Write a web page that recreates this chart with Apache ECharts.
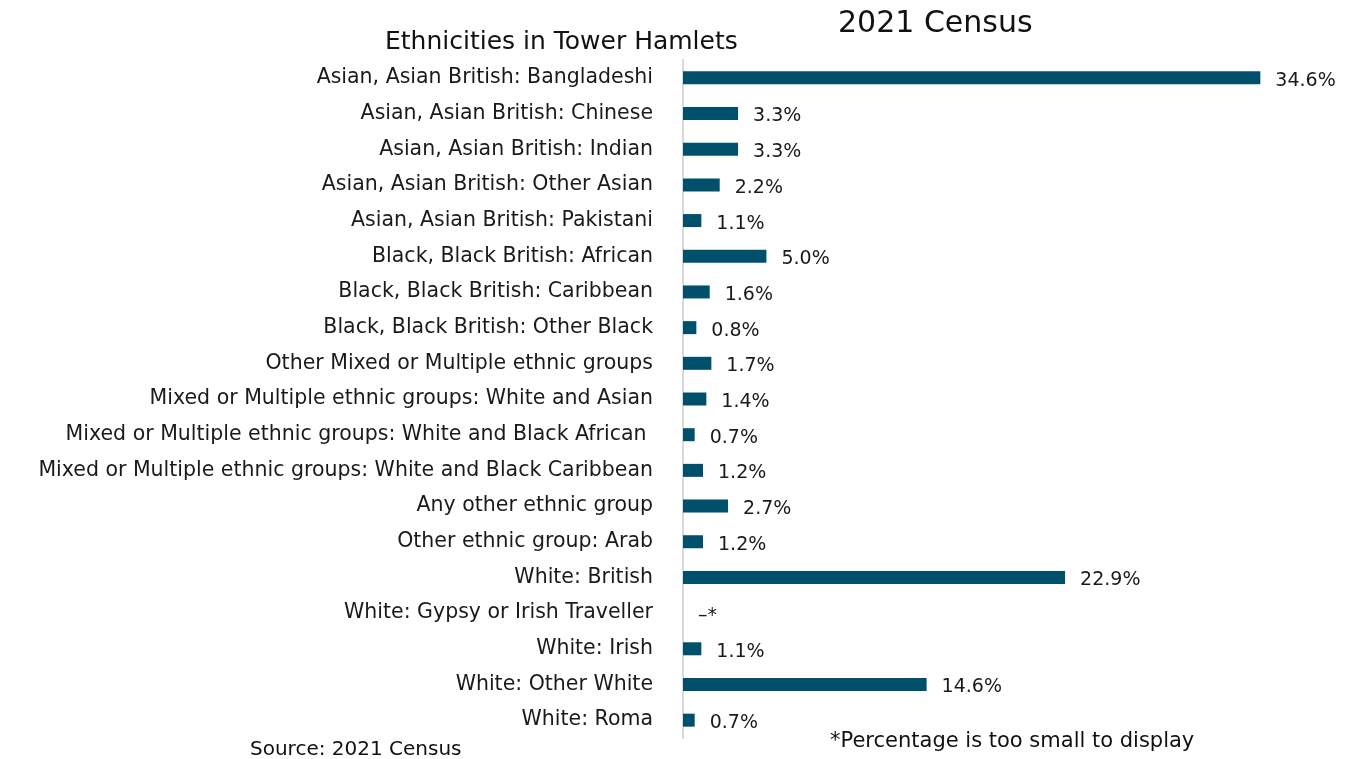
<!DOCTYPE html>
<html>
<head>
<meta charset="utf-8">
<script src="https://cdn.jsdelivr.net/npm/echarts@6/dist/echarts.min.js"></script>
<style>
  html, body { margin: 0; padding: 0; background: #ffffff; }
  #chart { width: 1358px; height: 759px; }
</style>
</head>
<body>
<div id="chart"></div>
<script>
// Ethnic groups in Tower Hamlets, 2021 Census (share of residents, %)
const categories = [
  'Asian, Asian British: Bangladeshi',
  'Asian, Asian British: Chinese',
  'Asian, Asian British: Indian',
  'Asian, Asian British: Other Asian',
  'Asian, Asian British: Pakistani',
  'Black, Black British: African',
  'Black, Black British: Caribbean',
  'Black, Black British: Other Black',
  'Other Mixed or Multiple ethnic groups',
  'Mixed or Multiple ethnic groups: White and Asian',
  'Mixed or Multiple ethnic groups: White and Black African ',
  'Mixed or Multiple ethnic groups: White and Black Caribbean',
  'Any other ethnic group',
  'Other ethnic group: Arab',
  'White: British',
  'White: Gypsy or Irish Traveller',
  'White: Irish',
  'White: Other White',
  'White: Roma'
];
const shares = [34.6, 3.3, 3.3, 2.2, 1.1, 5.0, 1.6, 0.8, 1.7, 1.4, 0.7, 1.2, 2.7, 1.2, 22.9, 0, 1.1, 14.6, 0.7];
// Groups whose share is too small to show get a marker instead of a number
const suppressed = [false, false, false, false, false, false, false, false, false, false,
                    false, false, false, false, false, true, false, false, false];

const FONT = 'DejaVu Sans';
const chart = echarts.init(document.getElementById('chart'), null, { renderer: 'canvas' });

chart.setOption({
  backgroundColor: '#ffffff',
  textStyle: { fontFamily: FONT },
  animation: false,
  grid: { left: 683, top: 60, width: 584, height: 678, containLabel: false },
  xAxis: {
    type: 'value',
    min: 0,
    max: 35,
    show: false
  },
  yAxis: {
    type: 'category',
    data: categories,
    inverse: true,
    axisLine: { show: true, lineStyle: { color: '#d9d9d9', width: 2 } },
    axisTick: { show: false },
    axisLabel: { color: '#1a1a1a', fontSize: 20.5, fontFamily: FONT, margin: 30, padding: [3, 0, 0, 0] }
  },
  series: [{
    type: 'bar',
    data: shares,
    barWidth: 13,
    itemStyle: { color: '#00506b' },
    label: {
      show: true,
      position: 'right',
      distance: 15,
      offset: [0, 3],
      color: '#1a1a1a',
      fontSize: 19,
      fontFamily: FONT,
      formatter: p => suppressed[p.dataIndex] ? '\u2013*' : p.value.toFixed(1) + '%'
    }
  }],
  graphic: [
    { type: 'text', left: 838, top: 9,
      style: { text: '2021 Census', font: '30px "' + FONT + '"', fill: '#111111' } },
    { type: 'text', left: 385, top: 30,
      style: { text: 'Ethnicities in Tower Hamlets', font: '25px "' + FONT + '"', fill: '#111111' } },
    { type: 'text', left: 250, top: 740,
      style: { text: 'Source: 2021 Census', font: '20px "' + FONT + '"', fill: '#111111' } },
    { type: 'text', left: 830, top: 731,
      style: { text: '*Percentage is too small to display', font: '21px "' + FONT + '"', fill: '#111111' } }
  ]
});
</script>
</body>
</html>
